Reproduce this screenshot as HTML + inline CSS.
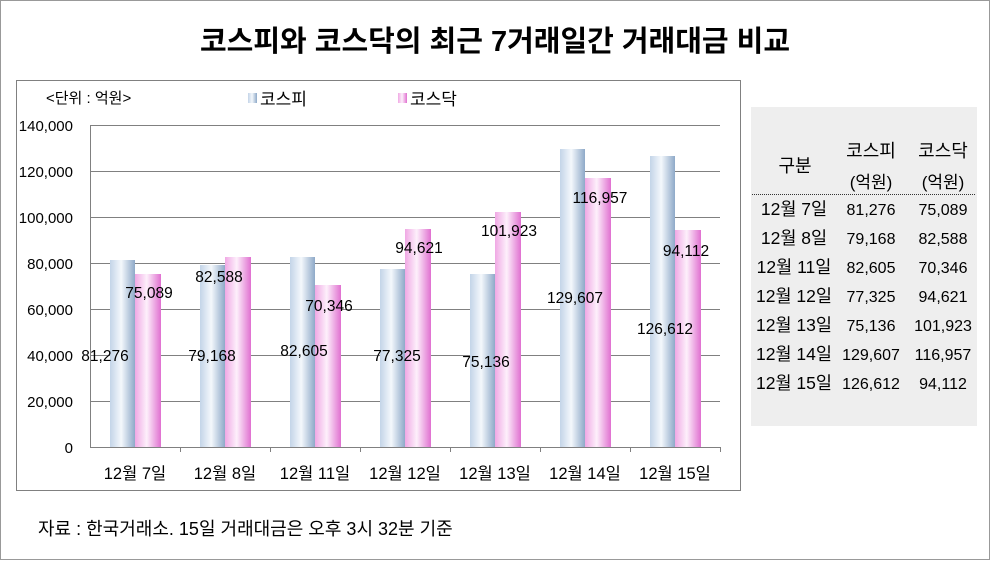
<!DOCTYPE html>
<html><head><meta charset="utf-8"><style>
body{margin:0;width:990px;height:560px;background:#fff;overflow:hidden}
svg text{font-family:"Liberation Sans","Noto Sans CJK KR","NanumGothic",sans-serif;fill:#000}
</style></head><body>
<svg width="990" height="560" xmlns="http://www.w3.org/2000/svg">
<defs>
<linearGradient id="b" x1="0" x2="1" y1="0" y2="0">
<stop offset="0" stop-color="#c3d4e8"/><stop offset="0.45" stop-color="#f4f8fc"/><stop offset="1" stop-color="#8ea9c8"/></linearGradient>
<linearGradient id="p" x1="0" x2="1" y1="0" y2="0">
<stop offset="0" stop-color="#f0a8e4"/><stop offset="0.45" stop-color="#fdf0fb"/><stop offset="1" stop-color="#e070d0"/></linearGradient>
</defs>
<rect x="0.5" y="0.5" width="989" height="559" fill="#fff" stroke="#999"/>
<text x="495" y="51" font-size="29" font-weight="bold" text-anchor="middle">코스피와 코스닥의 최근 7거래일간 거래대금 비교</text>
<rect x="16.5" y="80.5" width="724" height="410" fill="#fff" stroke="#808080"/>
<text x="46" y="103" font-size="15">&lt;단위 : 억원&gt;</text>
<rect x="248" y="93" width="9" height="10" fill="url(#b)"/><text x="260" y="105" font-size="17">코스피</text>
<rect x="398" y="93" width="9" height="10" fill="url(#p)"/><text x="410" y="105" font-size="17">코스닥</text>
<g stroke="#808080" stroke-width="1">
<line x1="90" y1="125.5" x2="720" y2="125.5"/><line x1="90" y1="171.5" x2="720" y2="171.5"/>
<line x1="90" y1="217.5" x2="720" y2="217.5"/><line x1="90" y1="263.5" x2="720" y2="263.5"/>
<line x1="90" y1="309.5" x2="720" y2="309.5"/><line x1="90" y1="355.5" x2="720" y2="355.5"/>
<line x1="90" y1="401.5" x2="720" y2="401.5"/><line x1="90" y1="447.5" x2="720" y2="447.5"/>
<line x1="90.5" y1="125" x2="90.5" y2="447"/>
<line x1="180.5" y1="447" x2="180.5" y2="452"/><line x1="270.5" y1="447" x2="270.5" y2="452"/>
<line x1="360.5" y1="447" x2="360.5" y2="452"/><line x1="450.5" y1="447" x2="450.5" y2="452"/>
<line x1="540.5" y1="447" x2="540.5" y2="452"/><line x1="630.5" y1="447" x2="630.5" y2="452"/>
<line x1="720.5" y1="447" x2="720.5" y2="452"/>
</g>
<g font-size="15" text-anchor="end">
<text x="73" y="131">140,000</text><text x="73" y="177">120,000</text><text x="73" y="223">100,000</text>
<text x="73" y="269">80,000</text><text x="73" y="315">60,000</text><text x="73" y="361">40,000</text>
<text x="73" y="407">20,000</text><text x="73" y="453">0</text>
</g>
<g>
<rect x="110" y="260" width="25" height="187" fill="url(#b)"/><rect x="135" y="274" width="26" height="173" fill="url(#p)"/>
<rect x="200" y="265" width="25" height="182" fill="url(#b)"/><rect x="225" y="257" width="26" height="190" fill="url(#p)"/>
<rect x="290" y="257" width="25" height="190" fill="url(#b)"/><rect x="315" y="285" width="26" height="162" fill="url(#p)"/>
<rect x="380" y="269" width="25" height="178" fill="url(#b)"/><rect x="405" y="229" width="26" height="218" fill="url(#p)"/>
<rect x="470" y="274" width="25" height="173" fill="url(#b)"/><rect x="495" y="212" width="26" height="235" fill="url(#p)"/>
<rect x="560" y="149" width="25" height="298" fill="url(#b)"/><rect x="585" y="178" width="26" height="269" fill="url(#p)"/>
<rect x="650" y="156" width="25" height="291" fill="url(#b)"/><rect x="675" y="230" width="26" height="217" fill="url(#p)"/>
</g>
<g font-size="15.5" text-anchor="middle">
<text x="149" y="298">75,089</text><text x="105" y="361">81,276</text>
<text x="212" y="361">79,168</text><text x="219" y="282">82,588</text>
<text x="304" y="356">82,605</text><text x="329" y="311">70,346</text>
<text x="397" y="361">77,325</text><text x="419" y="253">94,621</text>
<text x="486" y="367">75,136</text><text x="509" y="236">101,923</text>
<text x="575" y="303">129,607</text><text x="600" y="203">116,957</text>
<text x="665" y="334">126,612</text><text x="686" y="256">94,112</text>
</g>
<g font-size="16.5" text-anchor="middle">
<text x="135" y="479">12월 7일</text><text x="225" y="479">12월 8일</text><text x="315" y="479">12월 11일</text>
<text x="405" y="479">12월 12일</text><text x="495" y="479">12월 13일</text><text x="585" y="479">12월 14일</text><text x="675" y="479">12월 15일</text>
</g>
<rect x="751" y="107" width="226" height="319" fill="#eeeeee"/>
<line x1="752" y1="194.5" x2="976" y2="194.5" stroke="#333" stroke-dasharray="1,1"/>
<g font-size="16" text-anchor="middle">
<text x="795" y="172" font-size="18">구분</text>
<text x="871" y="157" font-size="18">코스피</text><text x="943" y="157" font-size="18">코스닥</text>
<text x="871" y="188" font-size="17">(억원)</text><text x="943" y="188" font-size="17">(억원)</text>
<g font-size="17.5"><text x="794" y="215">12월 7일</text><text x="794" y="244">12월 8일</text><text x="794" y="273">12월 11일</text>
<text x="794" y="302">12월 12일</text><text x="794" y="331">12월 13일</text><text x="794" y="360">12월 14일</text><text x="794" y="389">12월 15일</text></g>
<text x="871" y="215">81,276</text><text x="943" y="215">75,089</text>
<text x="871" y="244">79,168</text><text x="943" y="244">82,588</text>
<text x="871" y="273">82,605</text><text x="943" y="273">70,346</text>
<text x="871" y="302">77,325</text><text x="943" y="302">94,621</text>
<text x="871" y="331">75,136</text><text x="943" y="331">101,923</text>
<text x="871" y="360">129,607</text><text x="943" y="360">116,957</text>
<text x="871" y="389">126,612</text><text x="943" y="389">94,112</text>
</g>
<text x="38" y="535" font-size="18">자료 : 한국거래소. 15일 거래대금은 오후 3시 32분 기준</text>
</svg>
</body></html>
